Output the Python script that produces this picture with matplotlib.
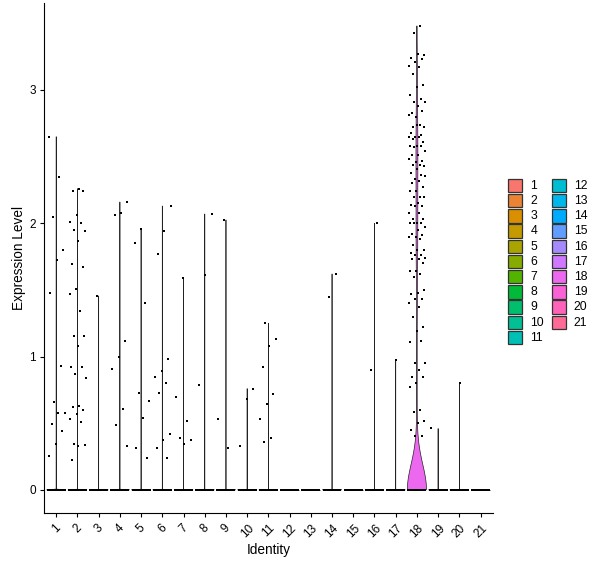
import numpy as np
import matplotlib
matplotlib.use("Agg")
import matplotlib.pyplot as plt
from matplotlib.patches import Rectangle, Polygon

plt.rcParams['font.family'] = ['Liberation Sans', 'DejaVu Sans']

# ---------------- data ----------------
clusters = [str(i) for i in range(1, 22)]

# number of cells with zero expression in each cluster (estimated)
n_zero = [1500, 1400, 1200, 1100, 1000, 950, 900, 850, 800, 750, 700,
          650, 600, 550, 500, 450, 420, 300, 300, 250, 200]

# non-zero expression values per cluster
c1 = [2.65, 2.35, 2.05, 1.80, 1.725, 1.48, 0.93, 0.66, 0.58, 0.58, 0.495, 0.44, 0.34, 0.255]
c2 = [2.26, 2.245, 2.245, 2.065, 2.01, 2.0, 1.95, 1.94, 1.87, 1.695, 1.675, 1.51, 1.47,
      1.34, 1.155, 1.155, 1.08, 0.925, 0.925, 0.87, 0.84, 0.63, 0.62, 0.60, 0.57, 0.53,
      0.51, 0.34, 0.335, 0.33, 0.22]
c3 = [1.455]
c4 = [2.16, 2.08, 2.065, 1.12, 1.0, 0.91, 0.61, 0.49, 0.325]
c5 = [1.96, 1.855, 1.40, 0.73, 0.67, 0.54, 0.31, 0.235]
c6 = [2.13, 1.945, 1.77, 0.985, 0.895, 0.85, 0.80, 0.73, 0.42, 0.37, 0.31, 0.24]
c7 = [1.59, 0.70, 0.52, 0.385, 0.37, 0.34]
c8 = [2.07, 1.615, 0.79]
c9 = [2.025, 0.53, 0.31]
c10 = [0.76, 0.685, 0.33]
c11 = [1.25, 1.13, 1.08, 0.925, 0.72, 0.645, 0.535, 0.39, 0.36]
c12 = []
c13 = []
c14 = [1.62, 1.45]
c15 = []
c16 = [2.0, 0.90]
c17 = [0.975]
c18 = [3.48, 3.43, 3.265, 3.27, 3.24, 3.23, 3.21, 3.18, 3.17, 3.12, 3.04, 3.025, 2.96,
       2.93, 2.91, 2.91, 2.88, 2.83, 2.84, 2.80, 2.81, 2.74, 2.725, 2.725, 2.74, 2.68,
       2.66, 2.65, 2.65, 2.65, 2.63, 2.61, 2.58, 2.58, 2.58, 2.575, 2.54, 2.51, 2.51,
       2.47, 2.46, 2.48, 2.44, 2.44, 2.43, 2.41, 2.38, 2.36, 2.33,
       2.355, 2.32, 2.305, 2.27, 2.245, 2.245, 2.20, 2.20, 2.20, 2.155, 2.14, 2.13,
       2.13, 2.08, 2.075, 2.03, 2.03, 2.005, 2.005, 2.005, 2.0, 1.97, 1.95, 1.92,
       1.915, 1.90, 1.895, 1.885, 1.84, 1.80, 1.80, 1.78, 1.76, 1.76, 1.74, 1.73,
       1.73, 1.705, 1.64, 1.64, 1.62, 1.60, 1.50, 1.48, 1.47, 1.435, 1.43, 1.40,
       1.375, 1.30, 1.22, 1.195,
       1.11, 1.12, 0.955, 0.955, 0.90, 0.85, 0.85, 0.805, 0.775, 0.60, 0.585, 0.515,
       0.505, 0.45, 0.40, 0.40]
c19 = [0.46]
c20 = [0.805]
c21 = []
nonzero = [c1, c2, c3, c4, c5, c6, c7, c8, c9, c10, c11, c12, c13, c14, c15,
           c16, c17, c18, c19, c20, c21]

y_ticks = [0, 1, 2, 3]
x_label = "Identity"
y_label = "Expression Level"


# ---------------- helpers ----------------
def hcl(h, c=100.0, l=65.0):
    Xn, Yn, Zn = 95.047, 100.0, 108.883
    hr = np.deg2rad(h)
    u, v = c * np.cos(hr), c * np.sin(hr)
    Y = Yn * ((l + 16) / 116) ** 3
    den = Xn + 15 * Yn + 3 * Zn
    un, vn = 4 * Xn / den, 9 * Yn / den
    up, vp = u / (13 * l) + un, v / (13 * l) + vn
    X = 9 * Y * up / (4 * vp)
    Z = -X / 3 - 5 * Y + 3 * Y / vp
    X, Y, Z = X / 100, Y / 100, Z / 100
    rgb = np.array([3.240479 * X - 1.537150 * Y - 0.498535 * Z,
                    -0.969256 * X + 1.875992 * Y + 0.041556 * Z,
                    0.055648 * X - 0.204043 * Y + 1.057311 * Z])
    rgb = np.where(rgb <= 0.0031308, 12.92 * rgb, 1.055 * np.abs(rgb) ** (1 / 2.4) - 0.055)
    return tuple(np.clip(rgb, 0, 1))


hues = np.linspace(15, 375, len(clusters) + 1)[:-1]
colors = [hcl(h) for h in hues]


def violin_shape(vals, n=512):
    x = np.asarray(vals, dtype=float)
    N = len(x)
    sd = x.std(ddof=1)
    q75, q25 = np.percentile(x, [75, 25])
    lo = min(sd, (q75 - q25) / 1.349)
    if lo == 0:
        lo = 1e-5   # Seurat adds tiny noise, so the bandwidth collapses
    bw = 0.9 * lo * N ** -0.2
    grid = np.linspace(x.min(), x.max(), n)
    z = (grid[:, None] - x[None, :]) / bw
    dens = np.exp(-0.5 * z * z).sum(axis=1)
    return grid, dens / dens.max()


# ---------------- figure ----------------
W, H = 600, 568
fig = plt.figure(figsize=(W / 100, H / 100), dpi=100)
ax = fig.add_axes([43.5 / W, 1 - 513 / H, (493.3 - 43.5) / W, (513 - 2.8) / H])

half_w = 0.45
jit = 0.4
golden = 0.6180339887

for i, name in enumerate(clusters):
    pos = i + 1
    vals = [0.0] * n_zero[i] + list(nonzero[i])
    vals_arr = np.array(vals)
    if vals_arr.max() == vals_arr.min():
        ax.plot([pos - half_w, pos + half_w], [vals_arr[0]] * 2, color='#222222',
                lw=0.6, zorder=1, solid_capstyle='butt')
    else:
        grid, wd = violin_shape(vals_arr)
        xs = np.concatenate([pos - wd * half_w, (pos + wd * half_w)[::-1]])
        ys = np.concatenate([grid, grid[::-1]])
        ax.add_patch(Polygon(np.column_stack([xs, ys]), closed=True,
                             facecolor=colors[i], edgecolor='#222222', lw=0.5, zorder=1))
    k = np.arange(len(vals_arr))
    offs = jit * (2 * np.mod(k * golden + 0.37 * i, 1.0) - 1)
    ax.scatter(pos + offs, vals_arr, s=2.2, marker='s', color='black',
               linewidths=0, zorder=2)

ax.set_xlim(0.4, len(clusters) + 0.6)
ax.set_ylim(-0.174, 3.654)
ax.set_xticks(range(1, len(clusters) + 1))
ax.set_xticklabels(clusters, rotation=45, ha='center', va='top', fontsize=8.5)
ax.set_yticks(y_ticks)
ax.set_yticklabels([str(t) for t in y_ticks], fontsize=8.5)
ax.tick_params(axis='both', direction='out', length=3, width=0.8, color='black',
               labelcolor='black', pad=2.5)
ax.tick_params(axis='x', pad=3.5)
for s in ['top', 'right']:
    ax.spines[s].set_visible(False)
for s in ['left', 'bottom']:
    ax.spines[s].set_linewidth(0.8)
    ax.spines[s].set_color('black')
ax.set_xlabel(x_label, fontsize=9.8, labelpad=2)
ax.set_ylabel(y_label, fontsize=9.8, labelpad=2)

# legend (drawn in pixel space)
lax = fig.add_axes([0, 0, 1, 1], facecolor='none')
lax.set_xlim(0, W)
lax.set_ylim(H, 0)
lax.axis('off')
nrow = 11
for i, name in enumerate(clusters):
    col, row = divmod(i, nrow)
    kx = 508.3 + col * 43.4
    ky = 178.8 + row * 15.2
    lax.add_patch(Rectangle((kx, ky), 14, 13.4, facecolor=colors[i],
                            edgecolor='#333333', lw=0.9))
    lax.text(kx + 22, ky + 6.9, name, fontsize=8.8, va='center', ha='left', color='black')

fig.savefig('out.png', dpi=100)
